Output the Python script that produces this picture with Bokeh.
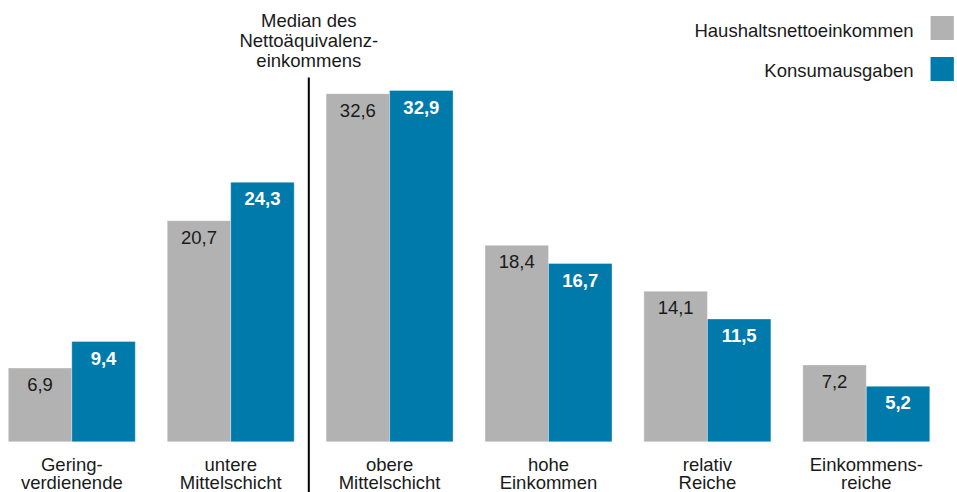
from bokeh.plotting import figure
from bokeh.models import Range1d, ColumnDataSource
from bokeh.core.properties import value
from bokeh.embed import file_html
from bokeh.resources import INLINE

# ---- data ----
categories = ["Gering-\nverdienende", "untere\nMittelschicht", "obere\nMittelschicht",
              "hohe\nEinkommen", "relativ\nReiche", "Einkommens-\nreiche"]
einkommen = [6.9, 20.7, 32.6, 18.4, 14.1, 7.2]
konsum = [9.4, 24.3, 32.9, 16.7, 11.5, 5.2]
series_names = ["Haushaltsnettoeinkommen", "Konsumausgaben"]
median_label = ["Median des", "Nettoäquivalenz-", "einkommens"]

GRAY = "#b2b2b2"
BLUE = "#007aab"
FONT = value("Liberation Sans")
FS = "18.5px"

# ---- layout constants (screen px) ----
W, H = 957, 492
X0, PITCH = 71.3, 158.9           # x of first group centre, group pitch
BASE, K = 441.3, 10.68            # y of baseline, px per unit

def ux(fx):
    return (fx - X0) / PITCH

def uy(fy):
    return (BASE - fy) / K

p = figure(width=W, height=H, output_backend="svg", toolbar_location=None,
           x_range=Range1d(ux(0), ux(W)), y_range=Range1d(uy(H), uy(0)),
           x_axis_location=None, y_axis_location=None,
           min_border=0, min_border_left=0, min_border_right=0,
           min_border_top=0, min_border_bottom=0)
p.grid.visible = False
p.outline_line_color = None
p.background_fill_color = "white"
p.border_fill_color = "white"

n = len(categories)
idx = list(range(n))
bw = 63.5 / PITCH
xg = [i - bw / 2 for i in idx]
xb = [i + bw / 2 for i in idx]

fmt = lambda v: f"{v:.1f}".replace(".", ",")

src_g = ColumnDataSource(dict(x=xg, top=einkommen, lab=[fmt(v) for v in einkommen]))
src_b = ColumnDataSource(dict(x=xb, top=konsum, lab=[fmt(v) for v in konsum]))

p.vbar(x="x", top="top", bottom=0, width=bw, source=src_g, fill_color=GRAY,
       line_color="white", line_alpha=0.35, line_width=1)
p.vbar(x="x", top="top", bottom=0, width=bw, source=src_b, fill_color=BLUE,
       line_color="white", line_alpha=0.35, line_width=1)

p.text(x="x", y="top", text="lab", source=src_g, text_font=FONT, text_font_size=FS,
       text_color="#1a1a1a", text_align="center", text_baseline="middle", y_offset=16.6)
p.text(x="x", y="top", text="lab", source=src_b, text_font=FONT, text_font_size=FS,
       text_font_style="bold", text_color="white", text_align="center",
       text_baseline="middle", y_offset=16.6)

# category labels (two lines)
line1 = [c.split("\n")[0] for c in categories]
line2 = [c.split("\n")[1] for c in categories]
p.text(x=idx, y=[0] * n, text=line1, text_font=FONT, text_font_size=FS, text_color="#1a1a1a",
       text_align="center", text_baseline="middle", y_offset=464.3 - BASE)
p.text(x=idx, y=[0] * n, text=line2, text_font=FONT, text_font_size=FS, text_color="#1a1a1a",
       text_align="center", text_baseline="middle", y_offset=481.8 - BASE)

# median divider
xm = ux(308.3)
p.segment(x0=[xm], y0=[uy(77)], x1=[xm], y1=[uy(H + 5)], line_color="black", line_width=2)
p.text(x=[xm] * 3, y=[uy(20), uy(40), uy(60)], text=median_label, text_font=FONT,
       text_font_size=FS, text_color="#1a1a1a", text_align="center", text_baseline="middle")

# legend (label left, swatch right)
p.text(x=[ux(913)] * 2, y=[uy(29.5), uy(69.5)], text=series_names, text_font=FONT,
       text_font_size=FS, text_color="#1a1a1a", text_align="right", text_baseline="middle")
p.rect(x=[ux(941.7)] * 2, y=[uy(27.5), uy(68.5)], width=23.3, height=24,
       width_units="screen", height_units="screen", fill_color=[GRAY, BLUE], line_color=None)

open("out.html", "w").write(file_html(p, INLINE))
